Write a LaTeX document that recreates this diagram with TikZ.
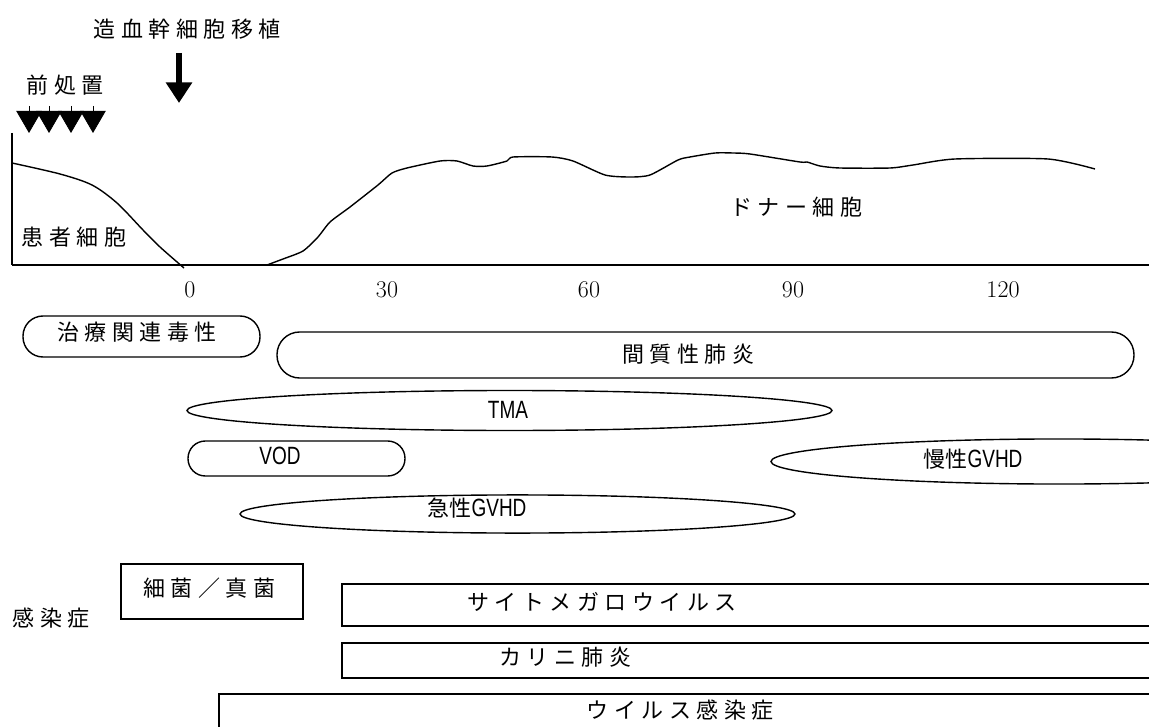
\documentclass[tikz,border=0pt]{standalone}
\usepackage{fontspec}
\usetikzlibrary{arrows.meta}
\newfontfamily\jp[LetterSpace=25]{Noto Sans CJK JP}
\newfontfamily\jpn{Noto Sans CJK JP}
\newfontfamily\lat[FakeStretch=0.76]{Liberation Sans}
\begin{document}
\begin{tikzpicture}[x=0.75pt,y=-0.75pt,
  line width=1.05pt,
  jtext/.style={inner sep=0pt, font=\jp\fontsize{16.5}{18}\selectfont},
  ltext/.style={inner sep=0pt, font=\lat\fontsize{18.75}{20}\selectfont},
  num/.style={inner sep=0pt, font=\fontsize{18}{20}\selectfont},
  pretip/.style={line width=0.6pt, -{Triangle[width=19pt,length=16.5pt]}}]
\useasboundingbox (0,0) rectangle (1149,727);
\clip (0,0) rectangle (1149,727);

% top labels and arrows
\node[jtext] (title) at (187,29) {造血幹細胞移植};
\coordinate (arrTop) at (179,53);
\coordinate (arrTip) at (179,103);
\draw[line width=4.5pt, -{Triangle[width=19pt,length=15.5pt]}] (arrTop) -- (arrTip);

\node[jtext] (pre) at (65,85) {前処置};
\foreach \i/\x in {1/29,2/49,3/71,4/93}{
  \coordinate (p\i t) at (\x,106);
  \coordinate (p\i b) at (\x,133);
  \draw[pretip] (p\i t) -- (p\i b);
}

% axes
\coordinate (o) at (12,265);
\draw (12,133) -- (o);
\draw (o) -- (1160,265);

% patient cells curve
\draw plot[smooth, tension=0.5] coordinates {(12,163) (60,174) (92,185) (117,203) (143,230) (160,247) (184,268)};
\node[jtext] (pat) at (74,237) {患者細胞};

% donor cells curve
\draw plot[smooth, tension=0.4] coordinates {(267,265) (283,259) (303,251) (318,237) (330,222) (350,207) (378,185) (392,173) (407,168) (440,161) (457,161) (473,166) (487,166) (507,161) (513,157) (552,157) (573,161) (605,175) (630,177) (650,175) (678,160) (690,157) (715,153) (733,153) (750,154) (800,162) (807,162) (820,166) (840,168) (890,168) (913,165) (955,159) (1048,159) (1095,169)};
\node[jtext] (don) at (796,207) {ドナー細胞};

% tick labels
\node[num] (t0) at (190,290) {0};
\node[num] (t30) at (387,290) {30};
\node[num] (t60) at (589,290) {60};
\node[num] (t90) at (793,290) {90};
\node[num] (t120) at (1003,290) {120};

% toxicity row
\draw[rounded corners=15pt] (23,316) rectangle (260,357);
\node[jtext] (tox) at (137,332) {治療関連毒性};
\draw[rounded corners=17pt] (277,332) rectangle (1134,378);
\node[jtext] (ip) at (688,354) {間質性肺炎};

\draw (509.5,410.5) ellipse [x radius=241.9pt, y radius=15pt];
\node[ltext] (tma) at (508,410) {TMA};

\draw[rounded corners=13pt] (188,441) rectangle (405,476);
\node[ltext] (vod) at (280,456) {VOD};

\draw (1059,461.5) ellipse [x radius=216pt, y radius=16.9pt];
\node[inner sep=0pt] (cgvhd) at (973,459) {{\jp\fontsize{16.5}{18}\selectfont 慢}{\jpn\fontsize{16.5}{18}\selectfont 性}{\lat\fontsize{18.75}{20}\selectfont GVHD}};

\draw (517.5,514) ellipse [x radius=208.1pt, y radius=14.3pt];
\node[inner sep=0pt] (agvhd) at (477,508) {{\jp\fontsize{16.5}{18}\selectfont 急}{\jpn\fontsize{16.5}{18}\selectfont 性}{\lat\fontsize{18.75}{20}\selectfont GVHD}};

% infections
\node[jtext] (inf) at (51,618) {感染症};
\draw (121,564) rectangle (303,619);
\node[jtext] (bf) at (209,588) {細菌／真菌};
\draw (342,584) rectangle (1160,626);
\node[jtext] (cmv) at (602,602) {サイトメガロウイルス};
\draw (342,643) rectangle (1160,678);
\node[jtext] (pcp) at (565,657) {カリニ肺炎};
\draw (219,694) rectangle (1160,740);
\node[jtext] (vir) at (680,710) {ウイルス感染症};
\end{tikzpicture}
\end{document}
